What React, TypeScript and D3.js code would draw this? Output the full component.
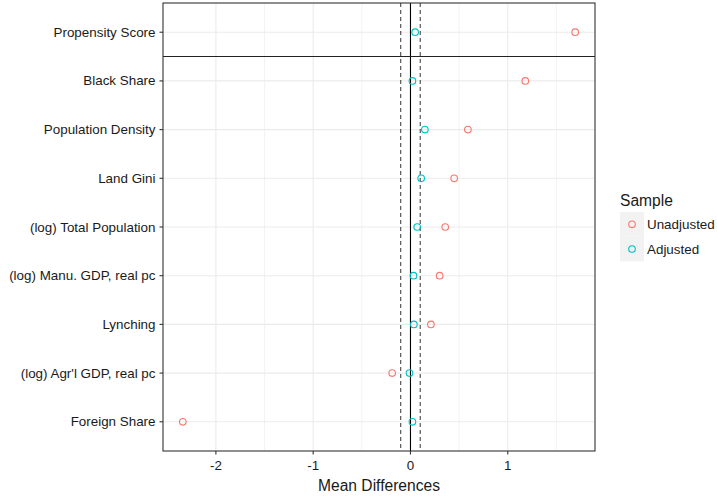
import React from "react";
import * as d3 from "d3";

const categories = [
  "Propensity Score",
  "Black Share",
  "Population Density",
  "Land Gini",
  "(log) Total Population",
  "(log) Manu. GDP, real pc",
  "Lynching",
  "(log) Agr'l GDP, real pc",
  "Foreign Share",
];
const unadjusted = [1.693, 1.18, 0.59, 0.449, 0.357, 0.30, 0.21, -0.188, -2.34];
const adjusted = [0.048, 0.02, 0.148, 0.11, 0.069, 0.031, 0.035, -0.01, 0.02];
const xTicks = [-2, -1, 0, 1];
const xMinor = [-1.5, -0.5, 0.5, 1.5];
const seriesNames = ["Unadjusted", "Adjusted"];
const seriesColors = ["#F8766D", "#00BFC4"];
const threshold = 0.1;

export default function App() {
  const W = 717, H = 497;
  const left = 163, right = 595, top = 3, bottom = 451;
  const x = d3.scaleLinear().domain([-2.5437, 1.8966]).range([left, right]);
  const y = d3
    .scalePoint<string>()
    .domain(categories)
    .range([top, bottom])
    .padding(0.6);
  const font = "'Liberation Sans', Arial, sans-serif";
  const sepY = ((y(categories[0]) as number) + (y(categories[1]) as number)) / 2;
  const grid = "#EBEBEB";
  const lab = 13.4;
  return (
    <svg
      width={W}
      height={H}
      style={{ position: "absolute", left: 0, top: 0 }}
      fontFamily={font}
    >
      <rect x={0} y={0} width={W} height={H} fill="white" />
      {xMinor.map((t) => (
        <line key={"m" + t} x1={x(t)} x2={x(t)} y1={top} y2={bottom} stroke={grid} strokeWidth={0.6} />
      ))}
      {xTicks.map((t) => (
        <line key={"g" + t} x1={x(t)} x2={x(t)} y1={top} y2={bottom} stroke={grid} strokeWidth={1.1} />
      ))}
      {categories.map((c) => (
        <line key={"h" + c} x1={left} x2={right} y1={y(c)} y2={y(c)} stroke={grid} strokeWidth={1.1} />
      ))}
      <line x1={x(-threshold)} x2={x(-threshold)} y1={top} y2={bottom} stroke="#333" strokeWidth={1} strokeDasharray="4,3" />
      <line x1={x(threshold)} x2={x(threshold)} y1={top} y2={bottom} stroke="#333" strokeWidth={1} strokeDasharray="4,3" />
      <line x1={x(0)} x2={x(0)} y1={top} y2={bottom} stroke="black" strokeWidth={1.1} />
      <line x1={left} x2={right} y1={sepY} y2={sepY} stroke="#222" strokeWidth={1.1} />
      {categories.map((c, i) => (
        <g key={"p" + c}>
          <circle cx={x(unadjusted[i])} cy={y(c)} r={3.3} fill="none" stroke={seriesColors[0]} strokeWidth={1.1} />
          <circle cx={x(adjusted[i])} cy={y(c)} r={3.3} fill="none" stroke={seriesColors[1]} strokeWidth={1.1} />
        </g>
      ))}
      <rect x={left} y={top} width={right - left} height={bottom - top} fill="none" stroke="#333" strokeWidth={1.1} />
      {categories.map((c) => (
        <g key={"yl" + c}>
          <line x1={left - 3.5} x2={left} y1={y(c)} y2={y(c)} stroke="#333" strokeWidth={1.1} />
          <text x={left - 7.5} y={(y(c) as number) + 4.5} textAnchor="end" fontSize={lab} fill="#1a1a1a">
            {c}
          </text>
        </g>
      ))}
      {xTicks.map((t) => (
        <g key={"xl" + t}>
          <line x1={x(t)} x2={x(t)} y1={bottom} y2={bottom + 3.5} stroke="#333" strokeWidth={1.1} />
          <text x={x(t)} y={bottom + 19} textAnchor="middle" fontSize={lab} fill="#1a1a1a">
            {t}
          </text>
        </g>
      ))}
      <text x={(left + right) / 2} y={491} textAnchor="middle" fontSize={15.6} fill="#1a1a1a">
        Mean Differences
      </text>
      <text x={620} y={205.5} fontSize={15.6} fill="#1a1a1a">Sample</text>
      {seriesNames.map((s, i) => (
        <g key={"lg" + s}>
          <rect x={620} y={212 + i * 24.7} width={24} height={24.7} fill="#F2F2F2" />
          <circle cx={632} cy={224.3 + i * 24.7} r={3.3} fill="none" stroke={seriesColors[i]} strokeWidth={1.1} />
          <text x={647} y={229 + i * 24.7} fontSize={lab} fill="#1a1a1a">{s}</text>
        </g>
      ))}
    </svg>
  );
}
